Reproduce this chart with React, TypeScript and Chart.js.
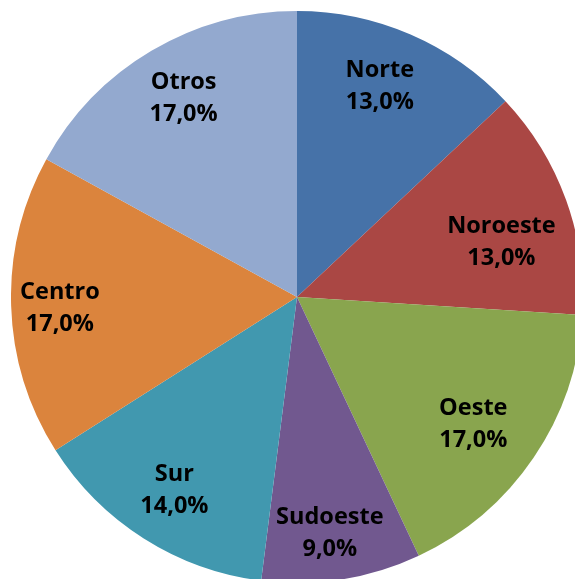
import React, { useEffect, useRef } from "react";
import { Chart, registerables } from "chart.js";

Chart.register(...registerables);

const categories = ["Norte", "Noroeste", "Oeste", "Sudoeste", "Sur", "Centro", "Otros"];
const shares = [13, 13, 17, 9, 14, 17, 17];
const colors = ["#4672A8", "#AA4744", "#89A54E", "#71588F", "#4198AF", "#DB843D", "#93A9CF"];

// label placement ("best fit" style nudges): radial fraction and angular shift (deg)
const labelRadius = [0.79, 0.74, 0.76, 0.835, 0.8, 0.83, 0.8];
const labelShift = [-1.9, 4.8, 1.6, 1.1, 0, -0.9, 0.9];

const labelPlugin = {
  id: "sliceLabels",
  afterDatasetsDraw(chart: any) {
    const ctx = chart.ctx;
    const meta = chart.getDatasetMeta(0);
    const data = chart.data.datasets[0].data as number[];
    const total = data.reduce((a, b) => a + b, 0);
    ctx.save();
    ctx.fillStyle = "#000";
    ctx.textAlign = "center";
    ctx.textBaseline = "middle";
    ctx.font = "bold 23.5px 'Open Sans', Lato, sans-serif";
    meta.data.forEach((arc: any, i: number) => {
      const p = arc.getProps(["x", "y", "startAngle", "endAngle", "outerRadius"], true);
      const mid = (p.startAngle + p.endAngle) / 2 + (labelShift[i] * Math.PI) / 180;
      const r = p.outerRadius * labelRadius[i];
      const cx = p.x + Math.cos(mid) * r;
      const cy = p.y + Math.sin(mid) * r;
      const pct = ((data[i] / total) * 100).toFixed(1).replace(".", ",") + "%";
      ctx.fillText(chart.data.labels[i], cx, cy - 16);
      ctx.fillText(pct, cx, cy + 16);
    });
    ctx.restore();
  },
};

export default function App() {
  const ref = useRef<HTMLCanvasElement>(null);
  useEffect(() => {
    if (!ref.current) return;
    const chart = new Chart(ref.current, {
      type: "pie",
      data: {
        labels: categories,
        datasets: [
          {
            data: shares,
            backgroundColor: colors,
            borderWidth: 0,
          },
        ],
      },
      options: {
        responsive: false,
        animation: false,
        layout: { padding: 0 },
        plugins: {
          legend: { display: false },
          tooltip: { enabled: false },
        },
      },
      plugins: [labelPlugin],
    });
    return () => chart.destroy();
  }, []);
  return (
    <div style={{ position: "fixed", left: 11, top: 11, width: 572, height: 572 }}>
      <canvas ref={ref} width={572} height={572} style={{ display: "block" }} />
    </div>
  );
}
